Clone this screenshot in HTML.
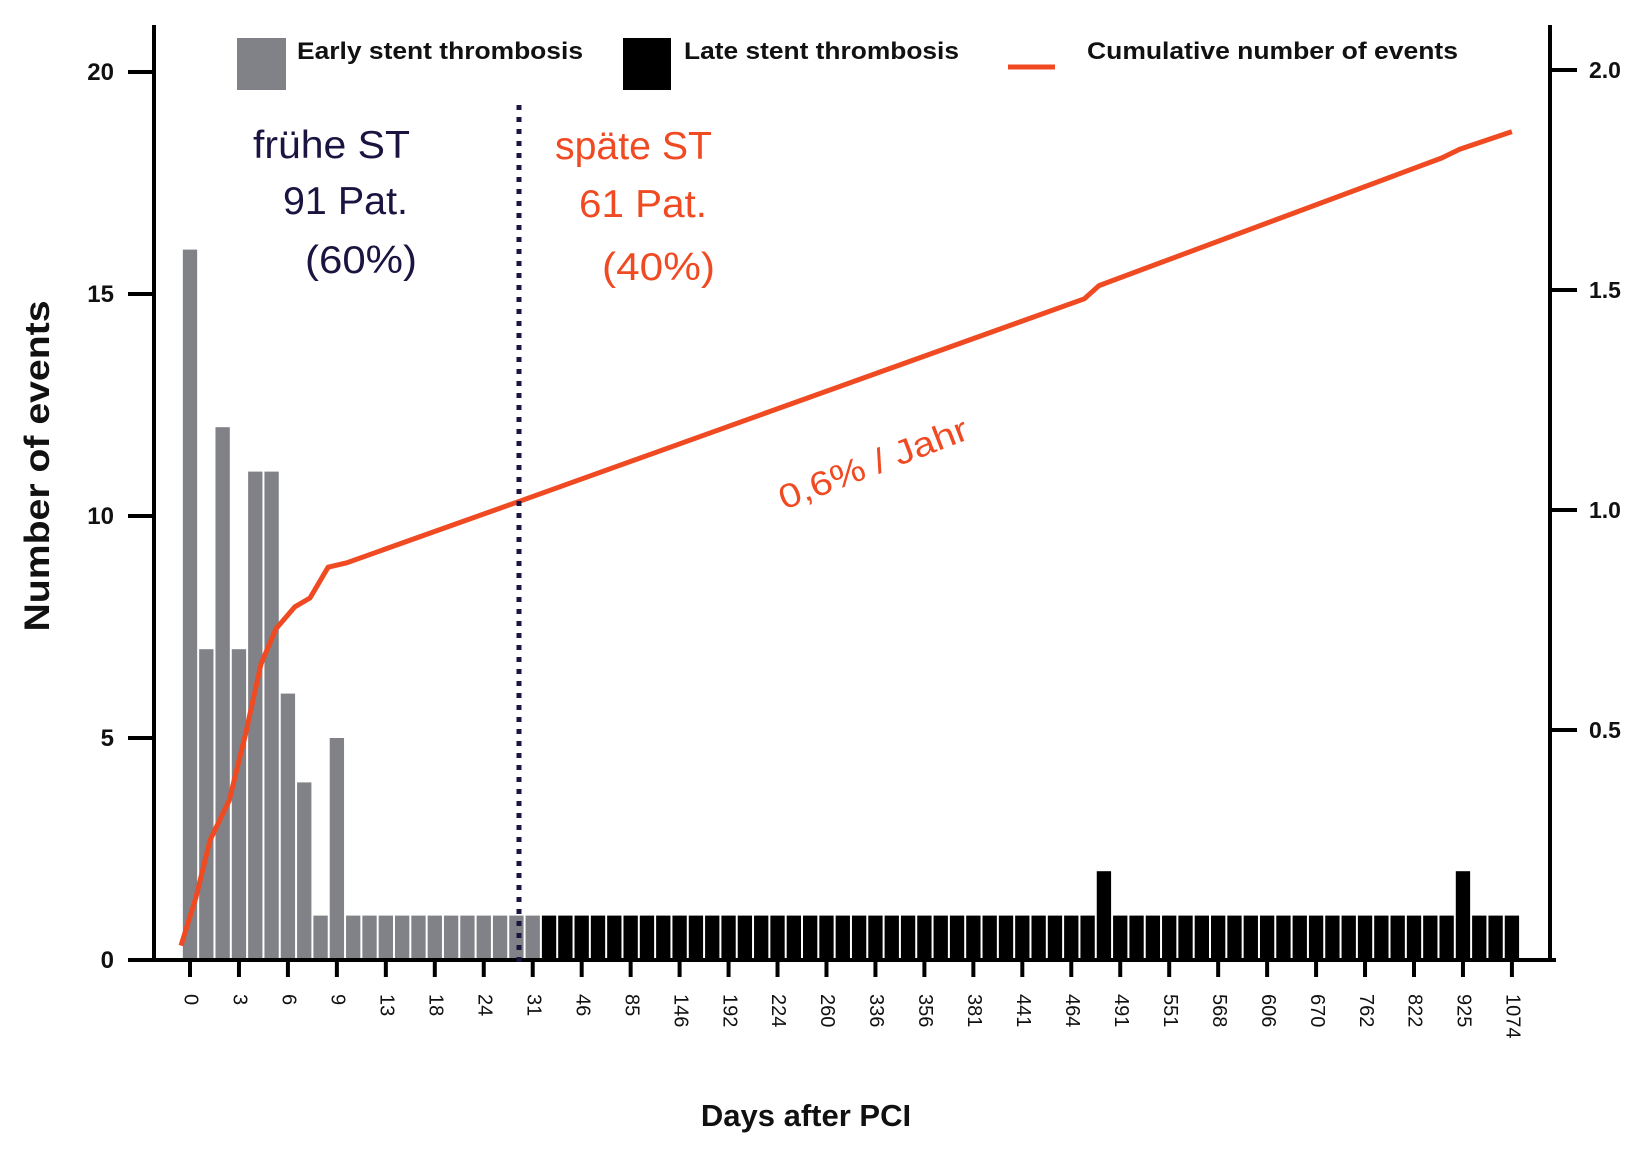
<!DOCTYPE html>
<html><head><meta charset="utf-8"><style>
html,body{margin:0;padding:0;background:#fff;}
svg{display:block;}
text{font-family:"Liberation Sans",Arial,sans-serif;}
</style></head><body>
<svg id="chart" width="1650" height="1153" viewBox="0 0 1650 1153" xmlns="http://www.w3.org/2000/svg">
<g id="bars"></g>
<g id="axes"></g>
<g id="line"></g>
<g>
  <rect x="237" y="38" width="49" height="52" fill="#818287"/>
  <text x="297" y="59" font-size="24" font-weight="bold" fill="#111" textLength="286" lengthAdjust="spacingAndGlyphs">Early stent thrombosis</text>
  <rect x="623" y="38" width="48" height="52" fill="#000"/>
  <text x="684" y="59" font-size="24" font-weight="bold" fill="#111" textLength="275" lengthAdjust="spacingAndGlyphs">Late stent thrombosis</text>
  <line x1="1008" y1="67" x2="1055" y2="67" stroke="#f04a23" stroke-width="5"/>
  <text x="1087" y="59" font-size="24" font-weight="bold" fill="#111" textLength="371" lengthAdjust="spacingAndGlyphs">Cumulative number of events</text>
</g>
<line x1="519" y1="105" x2="519" y2="964" stroke="#1a1440" stroke-width="5" stroke-dasharray="5 7"/>
<g fill="#1a1440" font-size="39">
  <text x="253" y="158" textLength="157" lengthAdjust="spacingAndGlyphs">frühe ST</text>
  <text x="283" y="214" textLength="125" lengthAdjust="spacingAndGlyphs">91 Pat.</text>
  <text x="305" y="273" textLength="112" lengthAdjust="spacingAndGlyphs">(60%)</text>
</g>
<g fill="#f04a23" font-size="39">
  <text x="555" y="159" textLength="157" lengthAdjust="spacingAndGlyphs">späte ST</text>
  <text x="579" y="217" textLength="128" lengthAdjust="spacingAndGlyphs">61 Pat.</text>
  <text x="602" y="280" textLength="113" lengthAdjust="spacingAndGlyphs">(40%)</text>
</g>
<text x="873" y="475" font-size="34" fill="#f04a23" text-anchor="middle" transform="rotate(-21 873 463)" textLength="200" lengthAdjust="spacingAndGlyphs">0,6% / Jahr</text>
<text x="0" y="0" font-size="35" font-weight="bold" fill="#111" text-anchor="middle" transform="translate(49 466) rotate(-90)" textLength="331" lengthAdjust="spacingAndGlyphs">Number of events</text>
<text x="806" y="1126" font-size="31" font-weight="bold" fill="#111" text-anchor="middle">Days after PCI</text>
</svg>
<script>
const categories = ["0","1","2","3","4","5","6","7","8","9","10","11","12","13","14","15","16","17","18","19","20","21","22","23","24","25","26","27","28","29","30","31","32","33","34","35","36","37","38","39","40","41","42","43","44","45","46","47","48","49","50","51","52","53","54","55","56","57","58","59","60","61","62","63","64","65","66","67","68","69","70","71","72","73","74","75","76","77","78","79","80","81"];
const eventCounts = [16,7,12,7,11,11,6,4,1,5,1,1,1,1,1,1,1,1,1,1,1,1,1,1,1,1,1,1,1,1,1,1,1,1,1,1,1,1,1,1,1,1,1,1,1,1,1,1,1,1,1,1,1,1,1,1,2,1,1,1,1,1,1,1,1,1,1,1,1,1,1,1,1,1,1,1,1,1,2,1,1,1];
const earlyCount = 22;
const xTickLabels = ["0","3","6","9","13","18","24","31","46","85","146","192","224","260","336","356","381","441","464","491","551","568","606","670","762","822","925","1074"];
const leftTicks = [0,5,10,15,20];
const rightTicks = ["0.5","1.0","1.5","2.0"];
const cumIndex = [-0.55,0.37,1.23,2.4,3.4,4.35,5.27,6.43,7.35,8.46,9.6,20.2,54.8,55.7,76.7,77.8,81.0];
const cumValue = [0.01,0.12,0.25,0.34,0.49,0.65,0.73,0.78,0.80,0.87,0.88,1.02,1.48,1.51,1.80,1.82,1.86];

const NS="http://www.w3.org/2000/svg";
const x0=190, bw=16.32, yBase=960, yPer=44.4, rZero=950, rPer=440;
const xS=i=>x0+i*bw;
const yL=v=>yBase-v*yPer;
const yR=v=>rZero-v*rPer;
function mk(tag,attrs,parent){const e=document.createElementNS(NS,tag);for(const k in attrs)e.setAttribute(k,attrs[k]);parent.appendChild(e);return e;}
const gb=document.getElementById('bars');
eventCounts.forEach((v,i)=>{
  const r=mk('rect',{x:xS(i)-bw/2+1,y:yL(v),width:bw-2,height:yL(0)-yL(v),fill:i<earlyCount?'#818287':'#000'},gb);
  
  
});
const ga=document.getElementById('axes');
let l=mk('line',{x1:154,y1:25,x2:154,y2:yBase+2,stroke:'#000','stroke-width':4},ga);


l=mk('line',{x1:1550,y1:25,x2:1550,y2:yBase+2,stroke:'#000','stroke-width':4},ga);


l=mk('line',{x1:128,y1:yBase,x2:1556,y2:yBase,stroke:'#000','stroke-width':4},ga);


leftTicks.forEach(v=>{
  const t=mk('line',{x1:128,y1:yL(v),x2:154,y2:yL(v),stroke:'#000','stroke-width':4},ga);
  
  
  const tx=mk('text',{x:114,y:yL(v)+8,'font-size':24,'font-weight':'bold','text-anchor':'end',fill:'#111'},ga);
  tx.textContent=v;
  
  
});
rightTicks.forEach(s=>{
  const v=parseFloat(s);
  const t=mk('line',{x1:1550,y1:yR(v),x2:1577,y2:yR(v),stroke:'#000','stroke-width':4},ga);
  
  
  const tx=mk('text',{x:1589,y:yR(v)+8,'font-size':23,'font-weight':'bold',fill:'#111'},ga);
  tx.textContent=s;
  
  
});
xTickLabels.forEach((s,k)=>{
  const x=xS(k*3);
  const t=mk('line',{x1:x,y1:yBase,x2:x,y2:977,stroke:'#000','stroke-width':4},ga);
  
  
  const tx=mk('text',{x:0,y:0,'font-size':20,fill:'#111','dominant-baseline':'middle',transform:`translate(${x} 994) rotate(90)`},ga);
  tx.textContent=s;
  
  
});
const gl=document.getElementById('line');
const pts=cumIndex.map((c,i)=>xS(c).toFixed(1)+','+yR(cumValue[i]).toFixed(1)).join(' ');
const pl=mk('polyline',{points:pts,fill:'none',stroke:'#f04a23','stroke-width':5,'stroke-linejoin':'round'},gl);


</script>
</body></html>
